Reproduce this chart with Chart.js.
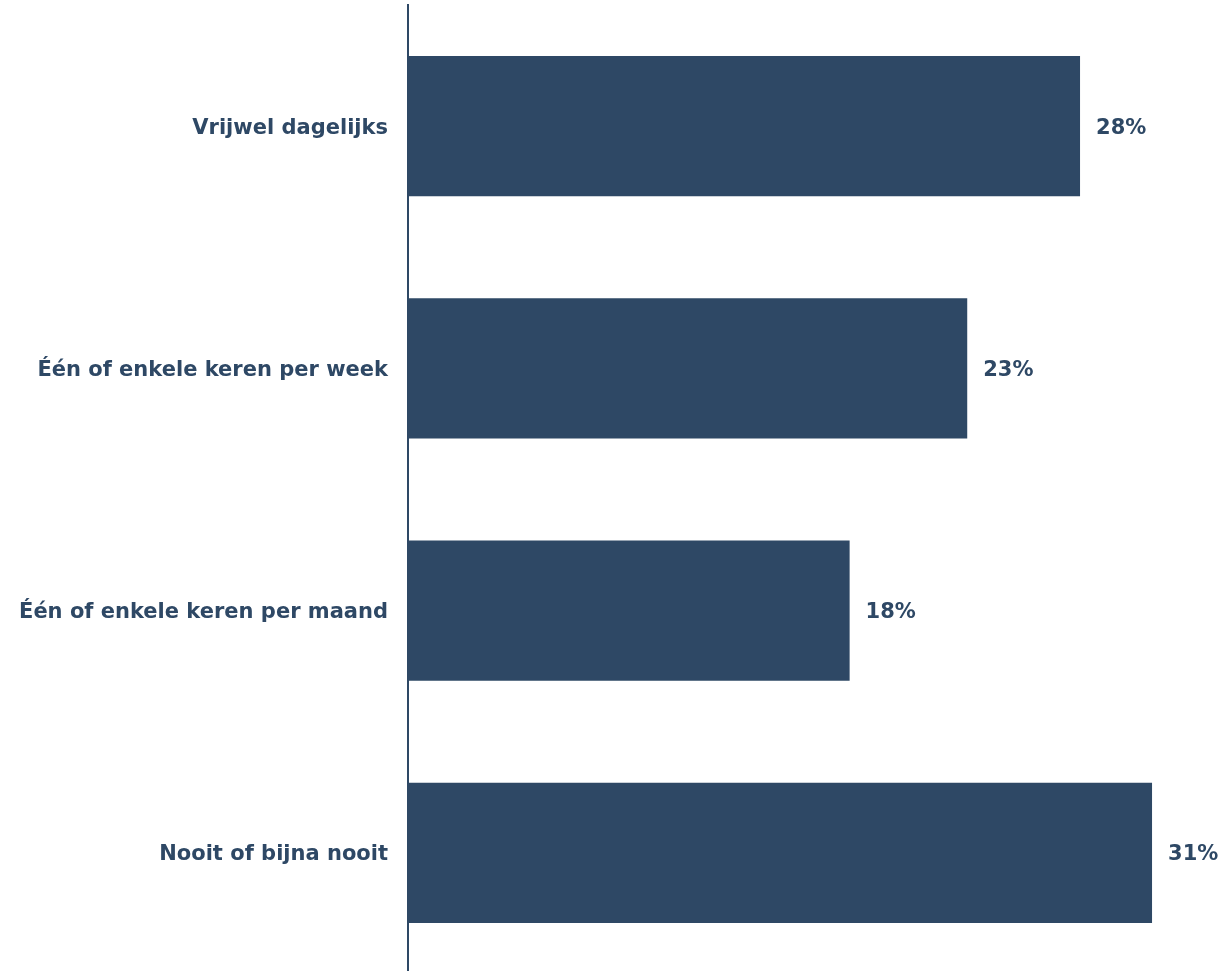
<!DOCTYPE html>
<html>
<head>
<meta charset="utf-8">
<script src="https://cdn.jsdelivr.net/npm/chart.js@4"></script>
<style>
  html, body { margin: 0; padding: 0; background: #ffffff; overflow: hidden; }
  #wrap { width: 1228px; height: 974px; position: relative; }
</style>
</head>
<body>
<div id="wrap"><canvas id="c"></canvas></div>
<script>
const categories = [
  "Vrijwel dagelijks",
  "Één of enkele keren per week",
  "Één of enkele keren per maand",
  "Nooit of bijna nooit"
];
const values = [28.0, 23.3, 18.4, 31.0];
const xMax = 31.04;

const barColor = "#2E4865";
const textColor = "#2E4865";
const fontFamily = "'DejaVu Sans', Verdana, sans-serif";
const fontSize = 21;

const valueLabels = {
  id: "valueLabels",
  afterDatasetsDraw(chart) {
    const ctx = chart.ctx;
    const meta = chart.getDatasetMeta(0);
    ctx.save();
    ctx.fillStyle = textColor;
    ctx.font = "bold " + fontSize + "px " + fontFamily;
    ctx.textAlign = "left";
    ctx.textBaseline = "middle";
    meta.data.forEach((el, i) => {
      ctx.fillText(Math.round(values[i]) + "%", el.x + 16, el.y + 2);
    });
    ctx.restore();
  }
};

new Chart(document.getElementById("c"), {
  type: "bar",
  data: {
    labels: categories,
    datasets: [{
      data: values,
      backgroundColor: barColor,
      borderWidth: 0,
      categoryPercentage: 1.0,
      barPercentage: 0.578
    }]
  },
  options: {
    indexAxis: "y",
    responsive: true,
    maintainAspectRatio: false,
    animation: false,
    layout: { padding: { top: 5, right: 75, bottom: 0, left: 0 } },
    plugins: {
      legend: { display: false },
      tooltip: { enabled: false }
    },
    scales: {
      x: {
        display: false,
        min: 0,
        max: xMax
      },
      y: {
        afterFit(scale) {
          scale.width = 408;
          scale.paddingTop = 0;
          scale.paddingBottom = 0;
        },
        grid: { display: false, drawTicks: false },
        border: { display: true, color: textColor, width: 2 },
        ticks: {
          padding: 20,
          labelOffset: 2,
          color: textColor,
          font: { family: fontFamily, size: fontSize, weight: "bold" }
        }
      }
    }
  },
  plugins: [valueLabels]
});
</script>
</body>
</html>
